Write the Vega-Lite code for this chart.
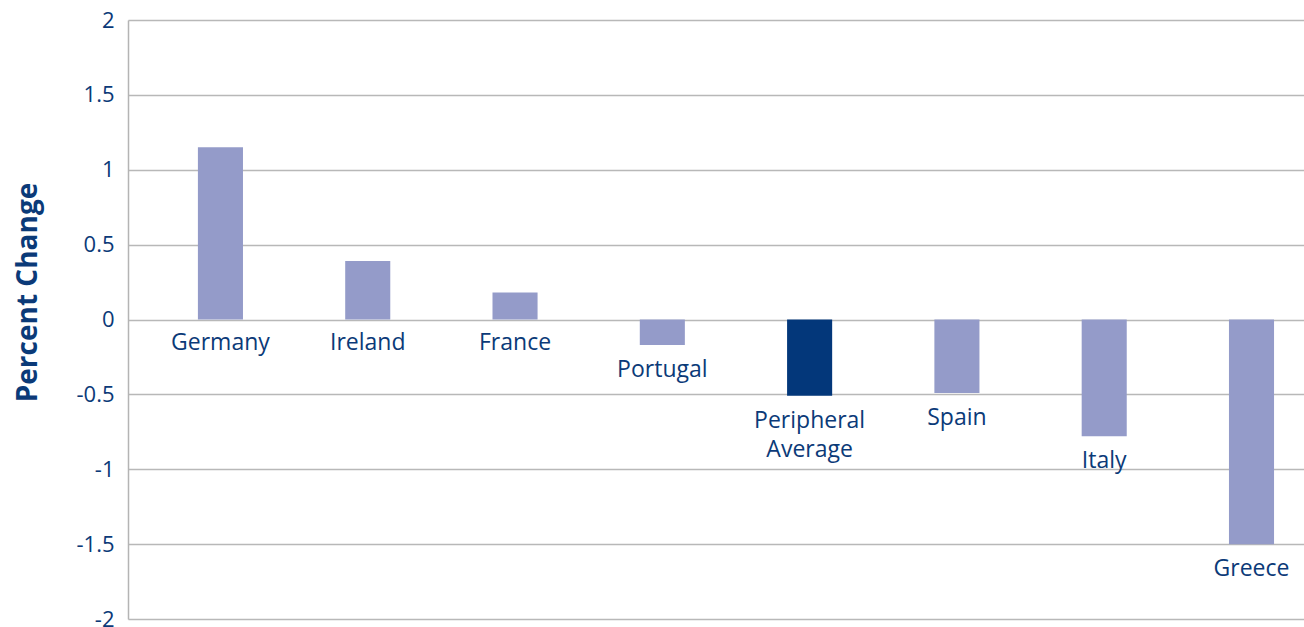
{
  "$schema": "https://vega.github.io/schema/vega-lite/v6.json",
  "width": 1176,
  "height": 599,
  "autosize": {"type": "none"},
  "padding": {"left": 128, "top": 20, "right": 0, "bottom": 8},
  "background": "white",
  "config": {"view": {"stroke": null}, "font": "Open Sans"},
  "data": {
    "values": [
      {"country": "Germany", "label": "Germany", "value": 1.15, "group": "country"},
      {"country": "Ireland", "label": "Ireland", "value": 0.39, "group": "country"},
      {"country": "France", "label": "France", "value": 0.18, "group": "country"},
      {"country": "Portugal", "label": "Portugal", "value": -0.17, "group": "country"},
      {"country": "Peripheral Average", "label": "Peripheral|Average", "value": -0.51, "group": "average"},
      {"country": "Spain", "label": "Spain", "value": -0.49, "group": "country"},
      {"country": "Italy", "label": "Italy", "value": -0.78, "group": "country"},
      {"country": "Greece", "label": "Greece", "value": -1.5, "group": "country"}
    ]
  },
  "encoding": {
    "x": {
      "field": "country",
      "type": "nominal",
      "sort": null,
      "scale": {"paddingInner": 0.694, "paddingOuter": 0.339, "align": 0.7},
      "axis": null
    }
  },
  "layer": [
    {
      "mark": {"type": "bar"},
      "encoding": {
        "y": {
          "field": "value",
          "type": "quantitative",
          "scale": {"domain": [-2, 2], "nice": false, "zero": true},
          "axis": {
            "values": [-2, -1.5, -1, -0.5, 0, 0.5, 1, 1.5, 2],
            "labelExpr": "datum.value + ''",
            "title": "Percent Change",
            "titleFont": "Open Sans",
            "titleFontSize": 28,
            "titleFontWeight": "bold",
            "titleColor": "#0b3a78",
            "titleX": -100,
            "titleY": 272,
            "titleAngle": -90,
            "titleAlign": "center",
            "titleBaseline": "middle",
            "labelFont": "Open Sans",
            "labelFontSize": 22,
            "labelColor": "#0b3a78",
            "labelPadding": 14,
            "ticks": false,
            "domain": true,
            "domainColor": "#b4b4b4",
            "domainWidth": 1.5,
            "grid": true,
            "gridColor": "#b8b8b8",
            "gridWidth": 1.3
          }
        },
        "y2": {"datum": 0},
        "color": {
          "field": "group",
          "type": "nominal",
          "scale": {"domain": ["country", "average"], "range": ["#949bc9", "#03377a"]},
          "legend": null
        }
      }
    },
    {
      "transform": [{"filter": "datum.value >= 0"}],
      "mark": {"type": "text", "baseline": "top", "align": "center", "dy": 12, "fontSize": 23, "font": "Open Sans", "color": "#0b3a78", "lineBreak": "|", "lineHeight": 29},
      "encoding": {
        "y": {"datum": 0, "type": "quantitative"},
        "text": {"field": "label"}
      }
    },
    {
      "transform": [{"filter": "datum.value < 0"}],
      "mark": {"type": "text", "baseline": "top", "align": "center", "dy": 14, "fontSize": 23, "font": "Open Sans", "color": "#0b3a78", "lineBreak": "|", "lineHeight": 29},
      "encoding": {
        "y": {"field": "value", "type": "quantitative"},
        "text": {"field": "label"}
      }
    }
  ]
}
